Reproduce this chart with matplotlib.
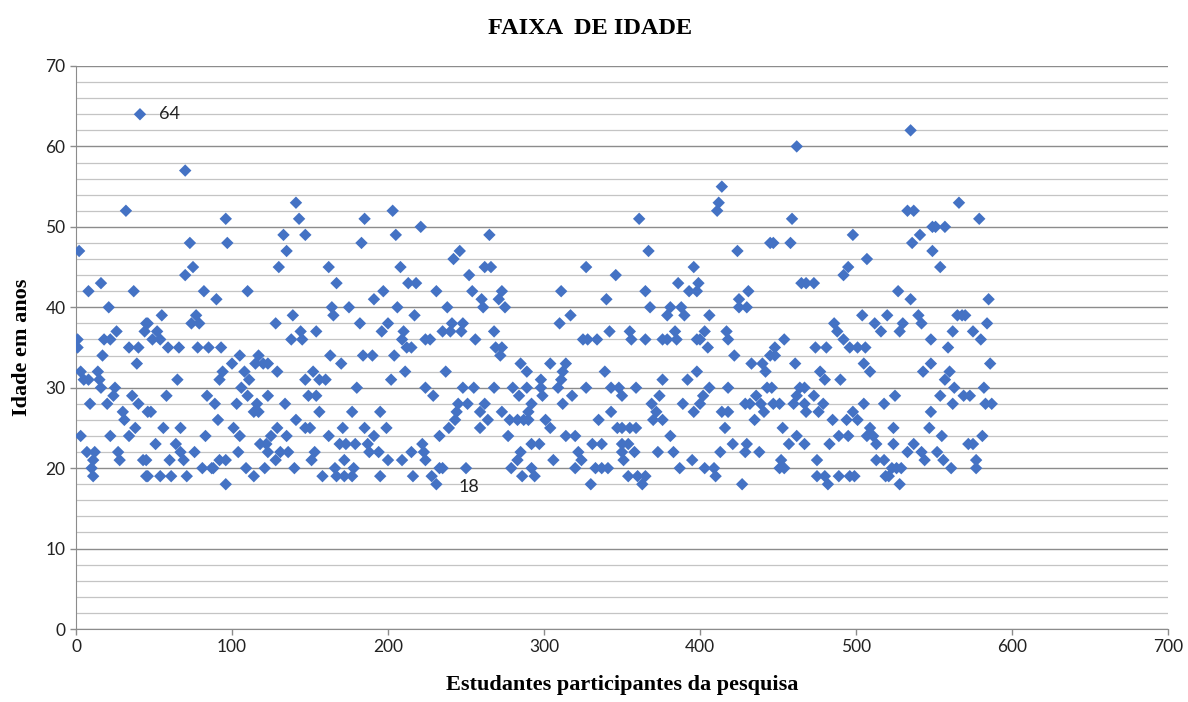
import matplotlib
matplotlib.use("Agg")
import matplotlib.pyplot as plt
import numpy as np

title = "FAIXA  DE IDADE"
xlabel = "Estudantes participantes da pesquisa"
ylabel = "Idade em anos"

pts = [
 (1,36),(1,35),(2,47),(3,32),(5,31),(8,31),(14,32),(15,31),(3,24),(7,22),(11,21),(12,22),(10,20),(11,19),(9,28),(20,28),(16,30),(25,30),(24,29),(17,34),(18,36),(22,36),(26,37),(21,40),(16,43),(8,42),(22,24),(27,22),(28,21),(30,27),(31,26),(32,52),(36,29),(34,35),(37,42),(34,24),(38,25),(39,33),(40,35),(40,28),(41,64),(43,21),(44,37),(45,38),(46,27),(45,19),
 (70,57),(96,51),(97,48),(73,48),(75,45),(70,44),(82,42),(90,41),(55,39),(77,39),(74,38),(79,38),(46,38),(52,37),(49,36),(54,36),(93,35),(59,35),(66,35),(78,35),(85,35),(94,32),(92,31),(65,31),(58,29),(48,27),(84,29),(89,28),(91,26),(56,25),(67,25),(83,24),(51,23),(64,23),(67,22),(76,22),(60,21),(69,21),(45,21),(92,21),(81,20),(88,20),(87,20),(46,19),(54,19),(61,19),(71,19),(96,18),
 (141,53),(143,51),(133,49),(147,49),(135,47),(130,45),(110,42),(139,39),(128,38),(144,37),(138,36),(145,36),(105,34),(100,33),(117,34),(115,33),(120,33),(123,33),(108,32),(111,31),(129,32),(147,31),(106,30),(110,29),(123,29),(103,28),(116,28),(134,28),(117,27),(114,27),(141,26),(147,25),(101,25),(105,24),(129,25),(125,24),(135,24),(118,23),(122,23),(123,22),(131,22),(136,22),(104,22),(96,21),(128,21),(109,20),(121,20),(140,20),(114,19),
 (185,51),(183,48),(197,42),(162,45),(167,43),(191,41),(164,40),(165,39),(175,40),(182,38),(196,37),(154,37),(163,34),(170,33),(184,34),(190,34),(152,32),(156,31),(160,31),(180,30),(149,29),(154,29),(156,27),(177,27),(195,27),(150,25),(162,24),(171,25),(185,25),(191,24),(169,23),(173,23),(179,23),(187,23),(188,22),(194,22),(153,22),(151,21),(172,21),(158,19),(166,20),(167,19),(172,19),(178,20),(177,19),(195,19),
 (203,52),(221,50),(205,49),(246,47),(242,46),(208,45),(213,43),(218,43),(231,42),(206,40),(217,39),(238,40),(200,38),(210,37),(209,36),(212,35),(215,35),(224,36),(227,36),(235,37),(240,37),(241,38),(247,37),(204,34),(211,32),(202,31),(237,32),(224,30),(229,29),(245,28),(244,27),(243,26),(199,25),(239,25),(233,24),(222,23),(215,22),(223,22),(224,21),(200,21),(209,21),(216,19),(228,19),(231,18),(235,20),(233,20),
 (265,49),(262,45),(266,45),(252,44),(254,42),(260,41),(261,40),(273,42),(271,41),(275,40),(248,38),(268,37),(256,36),(269,35),(273,35),(272,34),(285,33),(289,32),(248,30),(255,30),(268,30),(280,30),(289,30),(284,29),(298,31),(251,28),(259,27),(262,28),(292,28),(290,27),(290,26),(259,25),(264,26),(273,27),(278,26),(283,26),(287,26),(277,24),(292,23),(285,22),(283,21),(279,20),(286,19),(292,20),(294,19),(250,20),
 (327,45),(346,44),(311,42),(340,41),(317,39),(310,38),(342,37),(325,36),(328,36),(334,36),(304,33),(314,33),(312,32),(311,31),(309,30),(298,30),(299,29),(339,32),(327,30),(343,30),(348,30),(318,29),(312,28),(343,27),(301,26),(304,25),(335,26),(347,25),(314,24),(320,24),(331,23),(337,23),(322,22),(324,21),(297,23),(306,21),(320,20),(333,20),(337,20),(341,20),(330,18),
 (361,51),(367,47),(396,45),(386,43),(393,42),(365,42),(368,40),(379,39),(381,40),(388,40),(390,39),(384,37),(379,36),(376,36),(385,36),(355,37),(356,36),(365,36),(398,36),(398,32),(376,31),(392,31),(350,29),(359,30),(374,29),(369,28),(372,27),(370,26),(376,26),(389,28),(396,27),(350,25),(355,25),(359,25),(381,24),(350,23),(354,23),(358,22),(350,22),(351,21),(373,22),(383,22),(395,21),(387,20),(354,19),(360,19),(365,19),(363,18),
 (414,55),(412,53),(411,52),(445,48),(447,48),(424,47),(399,43),(398,42),(431,42),(425,41),(425,40),(430,40),(406,39),(403,37),(400,36),(405,35),(417,37),(418,36),(422,34),(433,33),(440,33),(442,32),(445,34),(448,34),(406,30),(418,30),(443,30),(446,30),(402,29),(400,28),(429,28),(432,28),(436,29),(439,28),(441,27),(447,28),(414,27),(418,27),(435,26),(416,25),(421,23),(430,23),(429,22),(438,22),(413,22),(403,20),(409,20),(410,19),(427,18),
 (462,60),(459,51),(458,48),(498,49),(495,45),(492,44),(465,43),(468,43),(473,43),(486,38),(488,37),(492,36),(496,35),(454,36),(448,35),(474,35),(481,35),(461,33),(477,32),(480,31),(490,31),(464,30),(467,30),(462,29),(473,29),(468,27),(476,27),(479,28),(451,28),(460,28),(467,28),(498,27),(494,26),(489,24),(495,24),(485,26),(453,25),(462,24),(457,23),(467,23),(483,23),(452,21),(454,20),(451,20),(475,21),(475,19),(480,19),(482,18),(489,19),(496,19),
 (535,62),(533,52),(537,52),(549,50),(536,48),(541,49),(549,47),(507,46),(527,42),(535,41),(504,39),(512,38),(520,39),(540,39),(542,38),(530,38),(528,37),(516,37),(548,36),(501,35),(506,35),(505,33),(509,32),(543,32),(548,33),(525,29),(505,28),(518,28),(501,26),(548,27),(509,25),(511,24),(507,24),(513,23),(524,25),(524,23),(547,25),(537,23),(533,22),(542,22),(544,21),(513,21),(518,21),(526,20),(529,20),(523,20),(519,19),(521,19),(499,19),(528,18),
 (566,53),(579,51),(551,50),(557,50),(554,45),(585,41),(565,39),(568,39),(570,39),(584,38),(562,37),(575,37),(580,36),(559,35),(586,33),(560,32),(557,31),(554,29),(563,30),(569,29),(573,29),(562,28),(582,30),(583,28),(587,28),(555,24),(572,23),(575,23),(581,24),(552,22),(556,21),(577,21),(577,20),(561,20),
]
student = [p[0] for p in pts]
age = [p[1] for p in pts]

label_max = (41, 64)
label_min = (231, 18)

xticks = [0, 100, 200, 300, 400, 500, 600, 700]
yticks = [0, 10, 20, 30, 40, 50, 60, 70]

fig = plt.figure(figsize=(11.88, 7.02), dpi=100)
ax = fig.add_axes([76/1188, 1-629/702, (1168-76)/1188, (629-66)/702])
ax.set_xlim(0, 700)
ax.set_ylim(0, 70)

for v in np.arange(0, 71, 2):
    major = (v % 10 == 0)
    ax.axhline(v, color='#8c8c8c' if major else '#c4c4c4', lw=1.0 if major else 0.9, zorder=0)

ax.scatter(student, age, marker='D', s=40, color='#4472C4', edgecolors='none', zorder=3)

ax.text(label_max[0] + 12, label_max[1], str(label_max[1]), fontsize=13, family='Lato',
        va='center', ha='left', color='#222222')
ax.text(label_min[0] + 14, label_min[1] - 0.3, str(label_min[1]), fontsize=13, family='Lato',
        va='center', ha='left', color='#222222')

ax.set_xticks(xticks)
ax.set_yticks(yticks)
ax.set_xticklabels([str(t) for t in xticks], fontsize=12.5, family='Lato', color='#222222')
ax.set_yticklabels([str(t) for t in yticks], fontsize=12.5, family='Lato', color='#222222')
ax.tick_params(axis='both', length=4, color='#8c8c8c', width=1)
for s in ['top', 'right']:
    ax.spines[s].set_visible(False)
for s in ['left', 'bottom']:
    ax.spines[s].set_color('#8c8c8c')

ax.set_xlabel(xlabel, fontsize=16, family='Liberation Serif', fontweight='bold', labelpad=14)
ax.set_ylabel(ylabel, fontsize=16, family='Liberation Serif', fontweight='bold', labelpad=10)
fig.text(590/1188, 1-28/702, title, fontsize=17.5, family='Liberation Serif', fontweight='bold',
         ha='center', va='center')

fig.savefig('out.png', dpi=100)
